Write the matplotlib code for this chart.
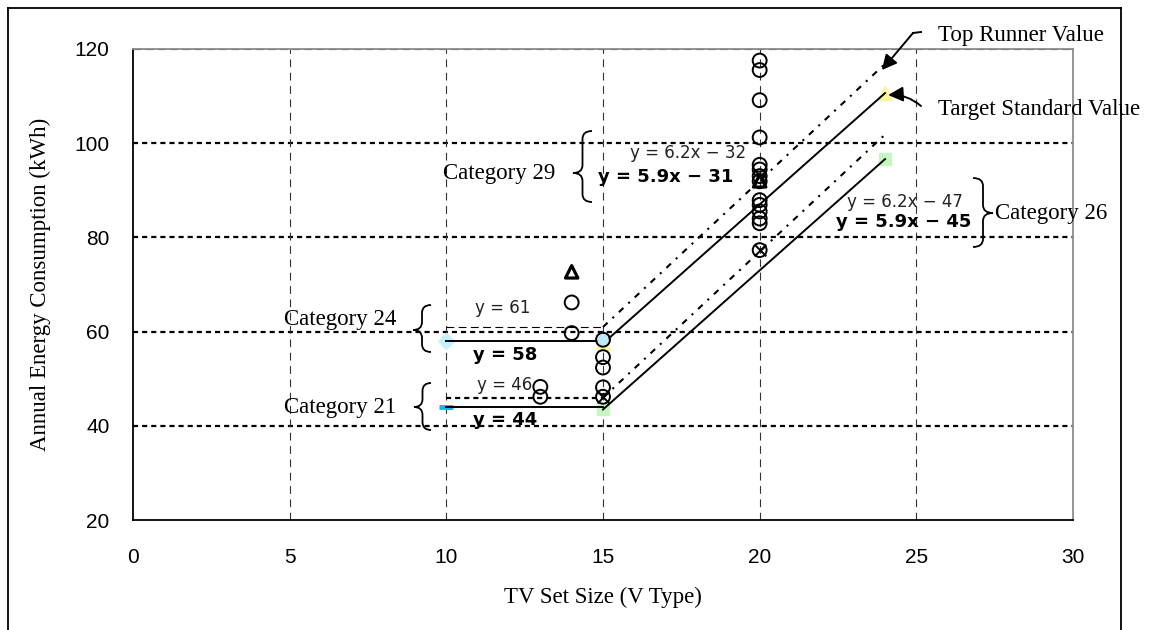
import matplotlib
matplotlib.use("Agg")
import matplotlib.pyplot as plt
from matplotlib.path import Path
from matplotlib.patches import PathPatch
from matplotlib.lines import Line2D

# ---- data -------------------------------------------------------------
x_ticks = [0, 5, 10, 15, 20, 25, 30]
y_ticks = [20, 40, 60, 80, 100, 120]

# measured products (open circles)
obs_x = [13, 13, 14, 14, 15, 15, 15, 15, 15,
         20, 20, 20, 20, 20, 20, 20, 20, 20, 20, 20, 20, 20, 20]
obs_y = [48.3, 46.2, 66.2, 59.7, 58.3, 54.6, 52.4, 48.2, 46.2,
         117.5, 115.5, 109.1, 101.2, 95.4, 94.4, 93.0, 91.9, 87.9, 86.9,
         85.5, 84.0, 83.0, 77.3]
# top runner products (crossed circles)
runner_x = [15, 20, 20]
runner_y = [46.2, 93.0, 77.3]
# products shown with triangles
tri_x = [14, 20]
tri_y = [72.7, 92.0]

# category break points (TV size)
size_small = 10
size_break = 15
size_large = 24

# flat standards below the break
cat24_target_flat = 58
cat24_runner_flat = 61
cat21_target_flat = 44
cat21_runner_flat = 46
# sloped standards above the break: (slope, intercept)
cat24_target_fit = (5.9, -31)
cat24_runner_fit = (6.2, -32)
cat21_target_fit = (5.9, -45)
cat21_runner_fit = (6.2, -47)


def fit_line(fit, xs):
    a, b = fit
    return [a * x + b for x in xs]


# ---- figure -------------------------------------------------------------
W, H = 1174, 630
fig = plt.figure(figsize=(W / 100, H / 100), dpi=100)


def fx(px):
    return px / W


def fy(py):
    return 1 - py / H


ax = fig.add_axes([fx(133), fy(520.3), 940 / W, (520.3 - 48.8) / H])
ax.set_xlim(0, 30)
ax.set_ylim(20, 120)

# grid
for yv in [40, 60, 80, 100]:
    ax.axhline(yv, color="black", lw=1.6, ls=(0, (2.3, 1.8)), zorder=1)
ax.axhline(120, color="black", lw=0.8, ls=(0, (7, 4)), zorder=2)
for xv in [5, 10, 15, 20, 25]:
    ax.axvline(xv, color="#333333", lw=0.8, ls=(0, (7, 5)), zorder=1)

for side in ["top", "right"]:
    ax.spines[side].set_color("#8c8c8c")
    ax.spines[side].set_linewidth(1.3)
for side in ["left", "bottom"]:
    ax.spines[side].set_color("black")
    ax.spines[side].set_linewidth(1.3)

ax.set_xticks(x_ticks)
ax.set_yticks(y_ticks)
tick_font = dict(family="Liberation Sans", size=15)
ax.set_xticklabels([str(v) for v in x_ticks], **tick_font)
ax.set_yticklabels([str(v) for v in y_ticks], **tick_font)
ax.tick_params(axis="both", length=0)
ax.tick_params(axis="y", pad=17)
ax.tick_params(axis="x", pad=20)

serif = "Liberation Serif"
fig.text(fx(40), fy(284), "Annual Energy Consumption (kWh)", rotation=90,
         ha="center", va="center", family=serif, fontsize=16.5)
fig.text(fx(603), fy(597), "TV Set Size (V Type)", ha="center", va="center",
         family=serif, fontsize=16.5)

# ---- standard lines ---------------------------------------------------
xs_slope = [size_break, size_large]
solid = dict(color="black", lw=1.4, zorder=4)
dashdot = dict(color="black", lw=1.5, ls=(0, (3.0, 3.2, 1.0, 3.2)), zorder=4)

ax.plot([size_small, size_break], [cat24_target_flat] * 2, **solid)
ax.plot(xs_slope, fit_line(cat24_target_fit, xs_slope), **solid)
ax.plot([size_small, size_break], [cat21_target_flat] * 2, **solid)
ax.plot(xs_slope, fit_line(cat21_target_fit, xs_slope), **solid)

ax.plot([size_small, size_break], [cat24_runner_flat] * 2, color="black",
        lw=0.8, ls=(0, (7, 4)), zorder=4)
ax.plot(xs_slope, fit_line(cat24_runner_fit, xs_slope), **dashdot)
ax.plot([size_small, size_break], [cat21_runner_flat] * 2, color="black",
        lw=1.6, ls=(0, (2.3, 1.8)), zorder=4)
ax.plot(xs_slope, fit_line(cat21_runner_fit, xs_slope), **dashdot)

# series end markers
ax.plot(size_small, cat24_target_flat, marker="D", ms=8, color="#c4f3fb",
        mec="#c4f3fb", zorder=3)
ax.plot(size_small, cat21_target_flat, marker="_", ms=10, mew=3.5,
        color="#19b4ec", zorder=3)
ax.plot(xs_slope, fit_line(cat24_target_fit, xs_slope), ls="none",
        marker="^", ms=10, color="#fbf69a", mec="#fbf69a", zorder=3)
ax.plot(xs_slope, fit_line(cat21_target_fit, xs_slope), ls="none",
        marker="s", ms=9, color="#c9f5c2", mec="#c9f5c2", zorder=3)

# ---- product points ---------------------------------------------------
ax.scatter(obs_x, obs_y, s=100, facecolors="none", edgecolors="black",
           linewidths=1.4, zorder=6)
ax.scatter([size_break], [obs_y[4]], s=70, facecolors="#bfeaf5",
           edgecolors="none", zorder=5)
ax.scatter(runner_x, runner_y, s=70, marker="x", color="black",
           linewidths=1.4, zorder=7)
ax.scatter(tri_x, tri_y, s=80, marker="^", facecolors="none",
           edgecolors="black", linewidths=2.3, zorder=7)

# ---- equation labels ----------------------------------------------------
eq_norm = dict(family="DejaVu Sans", fontsize=12, color="#222222",
               ha="center", va="center", zorder=8)
eq_bold = dict(family="DejaVu Sans", fontsize=13, fontweight="bold",
               color="black", ha="center", va="center", zorder=8)


def eq_text(a, b):
    return f"y = {a}x \u2212 {abs(b)}"


fig.text(fx(688), fy(153), eq_text(*cat24_runner_fit), **eq_norm)
fig.text(fx(666), fy(177), eq_text(*cat24_target_fit), **eq_bold)
fig.text(fx(905), fy(202), eq_text(*cat21_runner_fit), **eq_norm)
fig.text(fx(904), fy(222), eq_text(*cat21_target_fit), **eq_bold)
fig.text(fx(503), fy(308), f"y = {cat24_runner_flat}", **eq_norm)
fig.text(fx(505), fy(355), f"y = {cat24_target_flat}", **eq_bold)
fig.text(fx(505), fy(385), f"y = {cat21_runner_flat}", **eq_norm)
fig.text(fx(505), fy(420), f"y = {cat21_target_flat}", **eq_bold)

# ---- category labels with braces -------------------------------------
cat_font = dict(family=serif, fontsize=16.5, va="center")
fig.text(fx(340), fy(319), "Category 24", ha="center", **cat_font)
fig.text(fx(340), fy(408), "Category 21", ha="center", **cat_font)
fig.text(fx(499), fy(173), "Category 29", ha="center", **cat_font)
fig.text(fx(995), fy(213), "Category 26", ha="left", **cat_font)


def brace(x_end, x_tip, y_top, y_bot, y_mid=None):
    """Curly brace between y_top and y_bot (pixel coordinates)."""
    if y_mid is None:
        y_mid = (y_top + y_bot) / 2
    x_stem = (x_end + x_tip) / 2
    r = 8
    verts = [
        (x_end, y_top),
        (x_stem, y_top), (x_stem, y_top + r),
        (x_stem, y_mid - r),
        (x_stem, y_mid), (x_tip, y_mid),
        (x_stem, y_mid), (x_stem, y_mid + r),
        (x_stem, y_bot - r),
        (x_stem, y_bot), (x_end, y_bot),
    ]
    codes = [Path.MOVETO,
             Path.CURVE3, Path.CURVE3,
             Path.LINETO,
             Path.CURVE3, Path.CURVE3,
             Path.CURVE3, Path.CURVE3,
             Path.LINETO,
             Path.CURVE3, Path.CURVE3]
    verts = [(fx(a), fy(b)) for a, b in verts]
    fig.patches.append(PathPatch(Path(verts, codes), transform=fig.transFigure,
                                 fill=False, lw=1.3, color="black",
                                 figure=fig))


brace(431, 413, 305, 352, 330)
brace(431, 414, 383, 430, 407)
brace(592, 573, 131, 202, 173)
brace(973, 993, 178, 247, 213)

# ---- arrows to end values ---------------------------------------------
fig.text(fx(938), fy(36), "Top Runner Value", ha="left", va="center",
         family=serif, fontsize=16.5)
fig.text(fx(938), fy(110), "Target Standard Value", ha="left", va="center",
         family=serif, fontsize=16.5)
arrow = dict(arrowstyle="-|>,head_length=0.9,head_width=0.45", color="black",
             lw=1.4, shrinkA=0, shrinkB=0)
# short horizontal lead-in before the diagonal pointer
fig.lines.append(Line2D([fx(921), fx(913)], [fy(32), fy(33)],
                        transform=fig.transFigure, color="black", lw=1.4))
ax.annotate("", xy=(23.9, 115.5), xycoords="data",
            xytext=(fx(913), fy(33)), textcoords="figure fraction",
            arrowprops=dict(**arrow, connectionstyle="arc3,rad=0.0"))
ax.annotate("", xy=(24.1, 110.2), xycoords="data",
            xytext=(fx(921), fy(106)), textcoords="figure fraction",
            arrowprops=dict(**arrow, connectionstyle="arc3,rad=0.2"))

# ---- outer frame --------------------------------------------------------
for xs, ys in [([8, 1121], [8, 8]), ([8, 8], [8, 640]), ([1121, 1121], [8, 640])]:
    fig.lines.append(Line2D([fx(v) for v in xs], [fy(v) for v in ys],
                            transform=fig.transFigure, color="black", lw=1.3))

fig.savefig("out.png", dpi=100)
